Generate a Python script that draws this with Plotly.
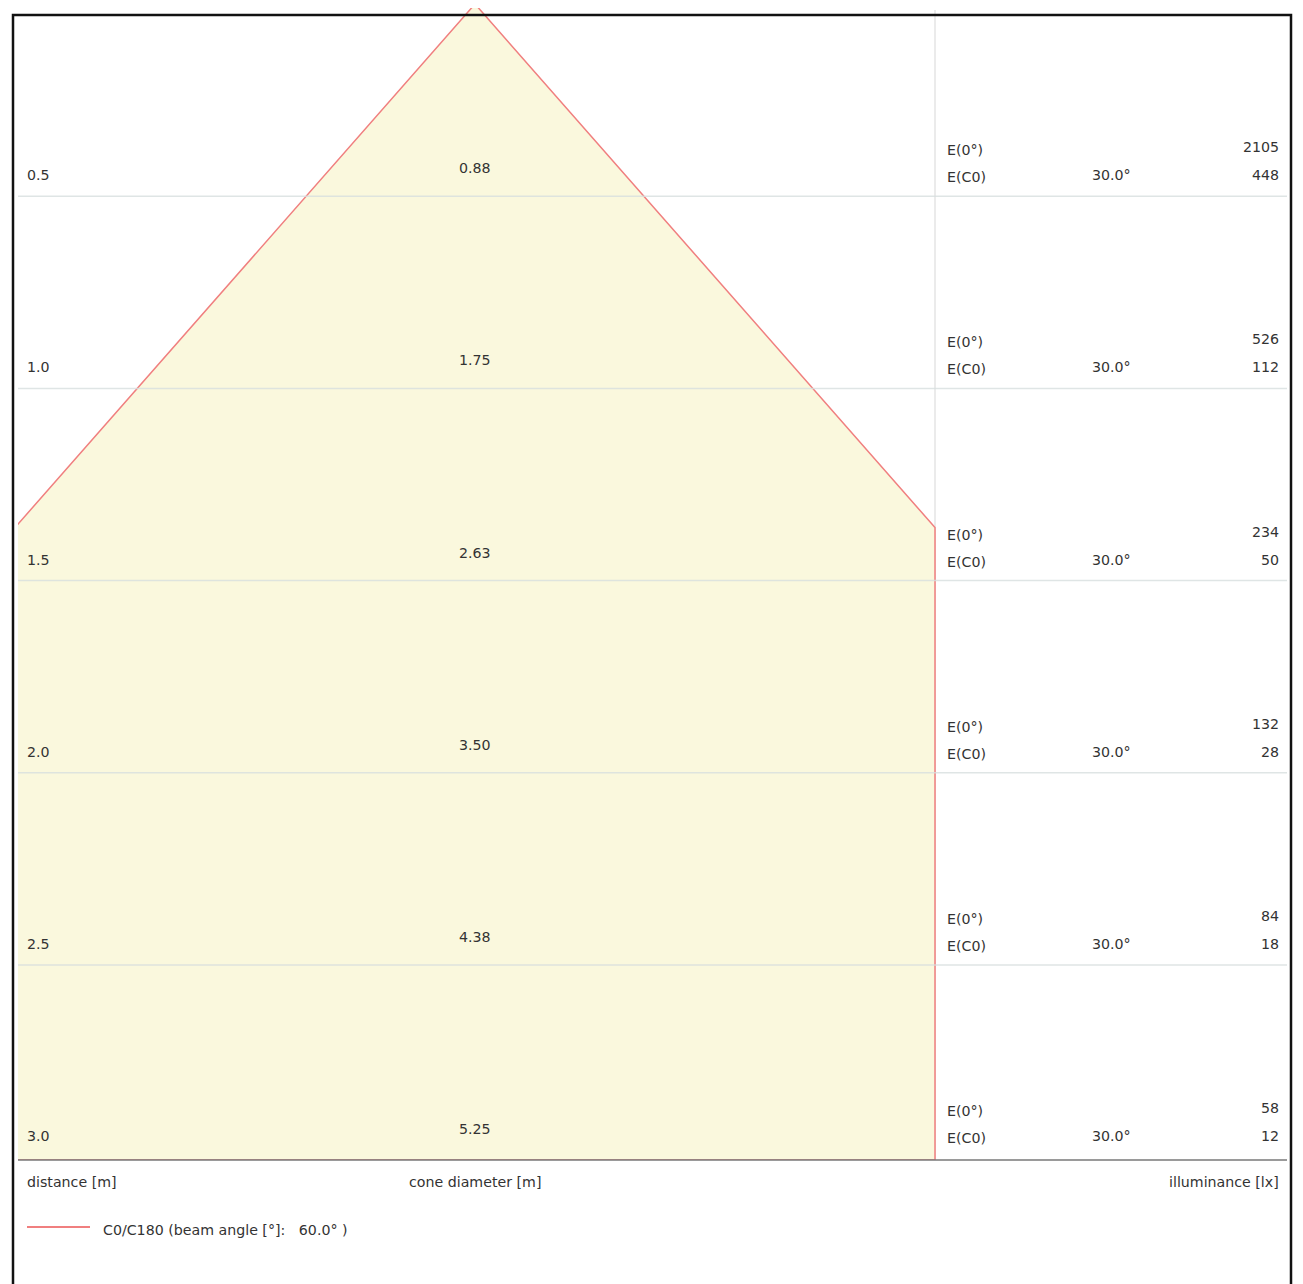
import plotly.graph_objects as go

# ---- data ----
distances = [0.5, 1.0, 1.5, 2.0, 2.5, 3.0]
cone_diameters = [0.88, 1.75, 2.63, 3.50, 4.38, 5.25]
e_center = [2105, 526, 234, 132, 84, 58]
e_c0 = [448, 112, 50, 28, 18, 12]
half_angle = ["30.0°"] * 6
beam_angle = "60.0°"
row_labels = ["E(0°)", "E(C0)"]
axis_titles = ["distance [m]", "cone diameter [m]", "illuminance [lx]"]
legend_label = "C0/C180 (beam angle [°]:\u00a0\u00a0 " + beam_angle + " )"

# ---- layout constants (window pixels; page body has an 8px margin) ----
OFF = 8
W, H = 1303 - OFF, 1284 - OFF
L, R, B = 18, 1287, 1160
Y0 = 4            # window y of distance 0
T = OFF           # top of plot area in window px
CENTER_PX = 475
DIV_PX = 935
pw, ph = R - L, B - T
d_max = distances[-1]
yscale = 384.4    # px per metre vertically
xscale = 386.0    # px per metre horizontally
x0 = (L - CENTER_PX) / xscale
x1 = (R - CENTER_PX) / xscale
x_div = (DIV_PX - CENTER_PX) / xscale
y_top = (T - Y0) / yscale
y_bot = (B - Y0) / yscale

def px(xp):
    return (xp - L) / pw

def py(yp):
    return 1 - (yp - T) / ph

TXT = "#333333"
FONT = "DejaVu Sans"
RED = "#f07f7f"

half_slope = cone_diameters[-1] / distances[-1] / 2.0

fig = go.Figure()
cone_x = [0, x_div, x_div, -half_slope * y_bot, 0]
cone_y = [0, x_div / half_slope, y_bot, y_bot, 0]
fig.add_trace(go.Scatter(
    x=cone_x, y=cone_y, mode="lines", fill="toself",
    fillcolor="#faf8dd", line=dict(color=RED, width=1.5),
    hoverinfo="skip", showlegend=False))

shapes = []
for d in distances[:-1]:
    shapes.append(dict(type="line", xref="paper", yref="y", x0=0, x1=1, y0=d, y1=d,
                       line=dict(color="rgba(215,222,222,0.8)", width=1.5), layer="above"))
shapes.append(dict(type="line", xref="x", yref="paper", x0=x_div, x1=x_div,
                   y0=py(10), y1=0, line=dict(color="#e4e4e4", width=1.5), layer="below"))
shapes.append(dict(type="line", xref="paper", yref="paper", x0=0, x1=1, y0=0, y1=0,
                   line=dict(color="rgba(120,120,120,0.75)", width=2), layer="above"))
shapes.append(dict(type="rect", xref="paper", yref="paper",
                   x0=px(13), x1=px(1291), y0=py(15), y1=py(1300),
                   line=dict(color="#111111", width=2.5), layer="above"))
shapes.append(dict(type="line", xref="paper", yref="paper", x0=px(27), x1=px(90),
                   y0=py(1227), y1=py(1227), line=dict(color=RED, width=2)))

ann = []
def add(text, x, y, xanchor, xref="paper", yref="y", yshift=0, size=14.2):
    ann.append(dict(text=text, x=x, y=y, xref=xref, yref=yref, xanchor=xanchor,
                    yanchor="middle", yshift=yshift, showarrow=False,
                    font=dict(family=FONT, size=size, color=TXT)))

LX = 25      # left text edge (compensates annotation padding)
RX = 1281    # right text edge
for i, d in enumerate(distances):
    add(f"{d:.1f}", px(LX), d, "left", yshift=21)
    add(f"{cone_diameters[i]:.2f}", 0, d, "center", xref="x", yshift=28)
    add(row_labels[0], px(945), d, "left", yshift=46)
    add(row_labels[1], px(945), d, "left", yshift=19)
    add(half_angle[i], px(1111), d, "center", yshift=21)
    add(str(e_center[i]), px(RX), d, "right", yshift=49)
    add(str(e_c0[i]), px(RX), d, "right", yshift=21)

add(axis_titles[0], px(LX), py(1182), "left", yref="paper")
add(axis_titles[1], px(CENTER_PX), py(1182), "center", yref="paper")
add(axis_titles[2], px(RX), py(1182), "right", yref="paper")
add(legend_label, px(101), py(1230), "left", yref="paper")

fig.update_layout(
    width=W, height=H,
    margin=dict(l=L - OFF, r=(1303 - R), t=T - OFF, b=(1284 - B), pad=0),
    paper_bgcolor="white", plot_bgcolor="white",
    xaxis=dict(range=[x0, x1], visible=False, fixedrange=True),
    yaxis=dict(range=[y_bot, y_top], visible=False, fixedrange=True),
    shapes=shapes, annotations=ann, showlegend=False,
)

fig.write_html("out.html")
